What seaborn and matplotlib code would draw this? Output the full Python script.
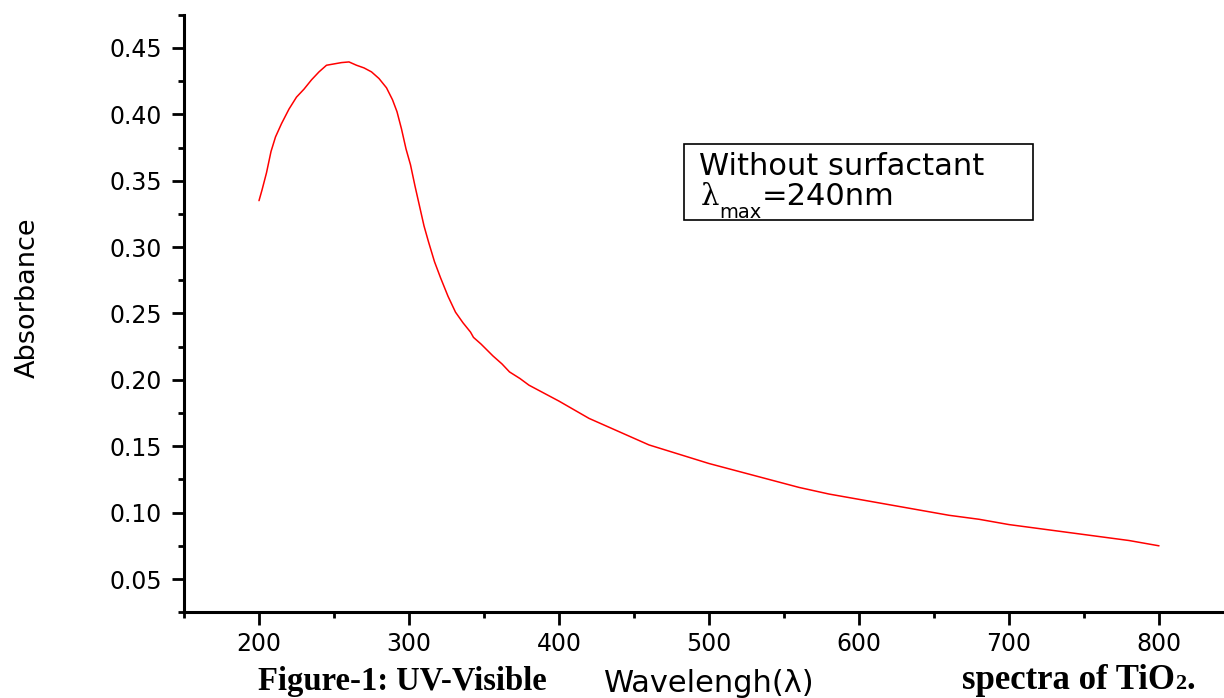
import matplotlib
matplotlib.use("Agg")
import matplotlib.pyplot as plt
from matplotlib.patches import Rectangle
from matplotlib.ticker import MultipleLocator, FormatStrFormatter
import seaborn as sns
import pandas as pd

# UV-Visible absorption spectrum of TiO2 (no surfactant)
wavelength = [200, 202, 205, 208, 211, 215, 220, 225, 230, 235, 240, 245, 250,
              255, 260, 265, 270, 275, 280, 285, 289, 292, 295, 298, 301, 304,
              307, 310, 313, 317, 321, 326, 331, 336, 341, 343, 348, 356, 362,
              367, 374, 380, 390, 400, 420, 440, 460, 480, 500, 520, 540, 560,
              580, 600, 620, 640, 660, 680, 700, 720, 740, 760, 780, 800]
absorbance = [0.335, 0.343, 0.356, 0.372, 0.383, 0.393, 0.404, 0.413, 0.419,
              0.426, 0.432, 0.437, 0.438, 0.439, 0.4395, 0.437, 0.435, 0.432,
              0.427, 0.420, 0.411, 0.402, 0.389, 0.374, 0.362, 0.346, 0.331,
              0.316, 0.304, 0.289, 0.277, 0.263, 0.251, 0.243, 0.236, 0.232,
              0.227, 0.218, 0.212, 0.206, 0.201, 0.196, 0.190, 0.184, 0.171,
              0.161, 0.151, 0.144, 0.137, 0.131, 0.125, 0.119, 0.114, 0.110,
              0.106, 0.102, 0.098, 0.095, 0.091, 0.088, 0.085, 0.082, 0.079,
              0.075]

x_ticks = [200, 300, 400, 500, 600, 700, 800]
y_ticks = [0.05, 0.10, 0.15, 0.20, 0.25, 0.30, 0.35, 0.40, 0.45]

x_label = "Wavelengh(\u03bb)"
y_label = "Absorbance"
note_line1 = "Without surfactant"
note_lambda = "\u03bb"
note_sub = "max"
note_value = "=240nm"
caption_left = "Figure-1: UV-Visible"
caption_right = "spectra of TiO"

sns.set_style("ticks")
plt.rcParams["font.family"] = ["DejaVu Sans"]
plt.rcParams.update({
    "text.color": "black",
    "axes.labelcolor": "black",
    "xtick.color": "black",
    "ytick.color": "black",
    "axes.edgecolor": "black",
})

W, H = 1224, 698
fig = plt.figure(figsize=(W / 100, H / 100), dpi=100)
fig.patch.set_facecolor("white")


def fx(px):
    return px / W


def fy(py):
    return (H - py) / H


# axes frame: x 150..850 spans pixels 184..1234, y 0.025..0.475 spans 612..15
ax = fig.add_axes([fx(184), fy(612.2), fx(1050), (612.2 - 14.8) / H])
ax.set_facecolor("white")

df = pd.DataFrame({"wavelength": wavelength, "absorbance": absorbance})
sns.lineplot(data=df, x="wavelength", y="absorbance", color="#ff0000",
             linewidth=1.1, ax=ax)

ax.set_xlim(150, 850)
ax.set_ylim(0.025, 0.475)
ax.set_xticks(x_ticks)
ax.set_yticks(y_ticks)
ax.xaxis.set_minor_locator(MultipleLocator(50))
ax.yaxis.set_minor_locator(MultipleLocator(0.025))
ax.yaxis.set_major_formatter(FormatStrFormatter("%.2f"))

for side in ("top", "right"):
    ax.spines[side].set_visible(False)
for side in ("left", "bottom"):
    ax.spines[side].set_linewidth(2.2)
    ax.spines[side].set_color("black")

ax.tick_params(axis="both", which="major", direction="out", length=9,
               width=2.0, color="black", labelsize=17, labelcolor="black")
ax.tick_params(axis="both", which="minor", direction="out", length=4.5,
               width=2.0, color="black")
ax.tick_params(axis="y", which="major", pad=7)
ax.tick_params(axis="x", which="major", pad=5)
ax.grid(False)

ax.set_xlabel(x_label, fontsize=22, color="black")
ax.xaxis.label.set_va("baseline")
ax.xaxis.set_label_coords((709 - 184) / 1050, (612.2 - 691.5) / 597.4)

ax.set_ylabel(y_label, fontsize=19.5, color="black")
ax.yaxis.label.set_va("center")
ax.yaxis.set_label_coords((28 - 184) / 1050, (612.2 - 298) / 597.4)

# annotation box
box = Rectangle((fx(684), fy(220)), fx(1033 - 684), (220 - 144) / H,
                transform=fig.transFigure, facecolor="white",
                edgecolor="black", linewidth=1.2, zorder=5)
fig.patches.append(box)
fig.text(fx(699), fy(175), note_line1, fontsize=22, va="baseline",
         ha="left", zorder=6)

# second line: lambda, lowered "max" subscript, then the value
t_lam = fig.text(fx(701), fy(205), note_lambda, fontsize=21,
                 family=["DejaVu Serif", "DejaVu Sans"], va="baseline",
                 ha="left", zorder=6)
fig.canvas.draw()
x_next = t_lam.get_window_extent().x1
t_max = fig.text(x_next / W, fy(217.5), note_sub, fontsize=14,
                 va="baseline", ha="left", zorder=6)
fig.canvas.draw()
x_next = t_max.get_window_extent().x1
fig.text(x_next / W, fy(205), note_value, fontsize=22, va="baseline",
         ha="left", zorder=6)

# caption split around the x-axis label
serif = ["Liberation Serif", "DejaVu Serif"]
fig.text(fx(258), fy(690), caption_left, fontsize=23.5, fontweight="bold",
         family=serif, va="baseline", ha="left")
t_right = fig.text(fx(962), fy(689), caption_right, fontsize=25,
                   fontweight="bold", family=serif, va="baseline", ha="left")
fig.canvas.draw()
bb = t_right.get_window_extent()
t_sub = fig.text(bb.x1 / W, fy(689), "2", fontsize=16, fontweight="bold",
                 family=serif, va="baseline", ha="left")
fig.canvas.draw()
bb2 = t_sub.get_window_extent()
fig.text(bb2.x1 / W, fy(689), ".", fontsize=25, fontweight="bold",
         family=serif, va="baseline", ha="left")

fig.savefig("out.png", dpi=100, facecolor="white")
